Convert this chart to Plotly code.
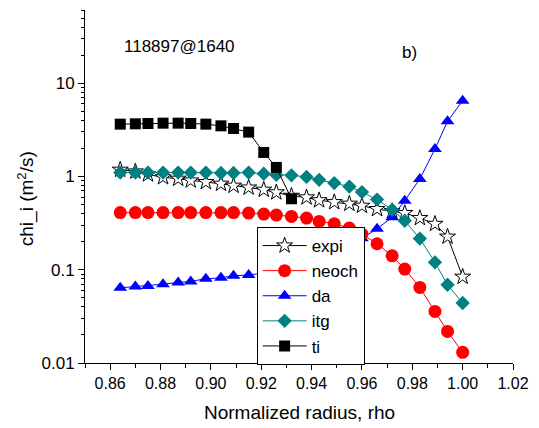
import plotly.graph_objects as go

# normalized radius grid shared by all profiles
rho = [0.864, 0.870, 0.875, 0.881, 0.887, 0.892, 0.898, 0.904, 0.909, 0.915,
       0.921, 0.926, 0.932, 0.938, 0.943, 0.949, 0.955, 0.960, 0.966, 0.972,
       0.977, 0.983, 0.989, 0.994, 1.000]

# ion heat diffusivities chi_i (m^2/s)
expi = [1.18, 1.13, 1.05, 0.98, 0.945, 0.905, 0.87, 0.835, 0.795, 0.76,
        0.72, 0.675, 0.62, 0.596, 0.555, 0.53, 0.51, 0.485, 0.447, 0.425,
        0.405, 0.358, 0.31, 0.226, 0.084]
neoch = [0.41, 0.41, 0.41, 0.41, 0.41, 0.41, 0.41, 0.41, 0.41, 0.405,
         0.395, 0.386, 0.373, 0.358, 0.330, 0.311, 0.280, 0.241, 0.190, 0.141,
         0.1016, 0.0646, 0.0357, 0.0218, 0.0130]
da = [0.064, 0.066, 0.067, 0.070, 0.073, 0.075, 0.080, 0.082, 0.086, 0.088,
      0.092, 0.097, 0.103, 0.111, 0.122, 0.140, 0.170, 0.217, 0.275, 0.365,
      0.55, 0.94, 1.97, 3.9, 6.5]
itg = [1.10, 1.10, 1.10, 1.10, 1.10, 1.10, 1.10, 1.09, 1.09, 1.10,
       1.07, 1.04, 1.03, 0.99, 0.92, 0.85, 0.78, 0.68, 0.565, 0.44,
       0.335, 0.216, 0.12, 0.069, 0.044]
ti = [3.64, 3.67, 3.70, 3.73, 3.73, 3.70, 3.64, 3.49, 3.27, 2.99,
      1.81, 1.25, 0.577]

x_ticks = [0.86, 0.88, 0.90, 0.92, 0.94, 0.96, 0.98, 1.00, 1.02]
x_ticktext = ["0.86", "0.88", "0.90", "0.92", "0.94", "0.96", "0.98", "1.00", "1.02"]
y_ticks = [0.01, 0.1, 1, 10]
y_ticktext = ["0.01", "0.1", "1", "10"]

FONT = "Liberation Sans, Arial, sans-serif"

fig = go.Figure()

fig.add_trace(go.Scatter(
    x=rho, y=expi, name="expi", mode="lines+markers", legendrank=1,
    line=dict(color="black", width=1),
    marker=dict(symbol="star", size=12, color="white", line=dict(color="black", width=1))))
fig.add_trace(go.Scatter(
    x=rho, y=da, name="da", mode="lines+markers", legendrank=3,
    line=dict(color="#0000FF", width=1),
    marker=dict(symbol="triangle-up", size=12, color="#0000FF")))
fig.add_trace(go.Scatter(
    x=rho, y=neoch, name="neoch", mode="lines+markers", legendrank=2,
    line=dict(color="#FF0000", width=1),
    marker=dict(symbol="circle", size=13, color="#FF0000")))
fig.add_trace(go.Scatter(
    x=rho, y=itg, name="itg", mode="lines+markers", legendrank=4,
    line=dict(color="#008080", width=1),
    marker=dict(symbol="diamond", size=11, color="#008080")))
fig.add_trace(go.Scatter(
    x=rho[:len(ti)], y=ti, name="ti", mode="lines+markers", legendrank=5,
    line=dict(color="black", width=1),
    marker=dict(symbol="square", size=11, color="black")))

fig.update_layout(
    width=539, height=428,
    margin=dict(l=85, r=17, t=10, b=65),
    paper_bgcolor="white", plot_bgcolor="white",
    font=dict(family=FONT, color="black"),
    showlegend=True,
    legend=dict(
        x=0.401, y=(363 - 227) / 353, xanchor="left", yanchor="top",
        bgcolor="white", bordercolor="black", borderwidth=1,
        font=dict(size=17, family=FONT), itemwidth=44,
        tracegroupgap=0),
    xaxis=dict(
        range=[0.85, 1.02], showgrid=False, zeroline=False,
        showline=True, linecolor="black", linewidth=1,
        ticks="outside", ticklen=6, tickcolor="black",
        tickvals=x_ticks, ticktext=x_ticktext,
        tickfont=dict(size=16, family=FONT),
        minor=dict(ticks="outside", ticklen=4, dtick=0.01, tickcolor="black", showgrid=False)),
    yaxis=dict(
        type="log", range=[-2, 1.785], showgrid=False, zeroline=False,
        showline=True, linecolor="black", linewidth=1,
        ticks="outside", ticklen=6, tickcolor="black",
        tickvals=y_ticks, ticktext=y_ticktext,
        tickfont=dict(size=17, family=FONT),
        minor=dict(ticks="outside", ticklen=3, dtick="D1", tickcolor="black", showgrid=False)),
    annotations=[
        dict(text="Normalized radius, rho", xref="paper", yref="paper",
             x=0.5, y=-0.139, xanchor="center", yanchor="middle",
             showarrow=False, font=dict(size=19, family=FONT)),
        dict(text="chi_i (m<sup>2</sup>/s)", xref="paper", yref="paper",
             x=-0.137, y=0.465, xanchor="center", yanchor="middle", textangle=-90,
             showarrow=False, font=dict(size=19, family=FONT)),
        dict(text="118897@1640", xref="paper", yref="paper",
             x=(181 - 85) / 437, y=(363 - 46.5) / 353, xanchor="center", yanchor="middle",
             showarrow=False, font=dict(size=17, family=FONT)),
        dict(text="b)", xref="paper", yref="paper",
             x=(416 - 85) / 437, y=(363 - 52) / 353, xanchor="center", yanchor="middle",
             showarrow=False, font=dict(size=17, family=FONT)),
    ],
)

fig.write_html("out.html")
